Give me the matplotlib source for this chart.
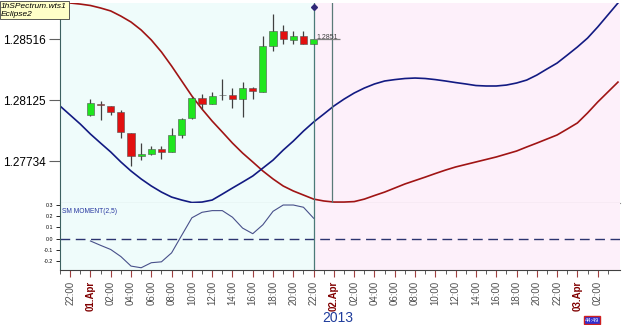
import matplotlib.pyplot as plt
from matplotlib.ticker import FixedLocator

plt.rcParams['font.family'] = ['Liberation Sans', 'DejaVu Sans']

# hours counted from 01.Apr 00:00
candle_hours = list(range(0, 23))
opens  = [1.28029, 1.28099, 1.28087, 1.28048, 1.27915, 1.27766, 1.27779, 1.27811, 1.27790, 1.27903, 1.28008, 1.28136,
          1.28097, 1.28155, 1.28155, 1.28130, 1.28200, 1.28178, 1.28473, 1.28567, 1.28510, 1.28535, 1.28484]
highs  = [1.28130, 1.28119, 1.28087, 1.28061, 1.27915, 1.27849, 1.27831, 1.27831, 1.27947, 1.28008, 1.28146, 1.28162,
          1.28178, 1.28260, 1.28200, 1.28238, 1.28206, 1.28537, 1.28676, 1.28606, 1.28567, 1.28567, 1.28516]
lows   = [1.28022, 1.27997, 1.28029, 1.27881, 1.27704, 1.27740, 1.27772, 1.27745, 1.27790, 1.27880, 1.28003, 1.28065,
          1.28097, 1.28125, 1.28076, 1.28014, 1.28130, 1.28178, 1.28439, 1.28484, 1.28482, 1.28482, 1.28484]
closes = [1.28104, 1.28093, 1.28050, 1.27920, 1.27768, 1.27779, 1.27809, 1.27790, 1.27903, 1.28003, 1.28140, 1.28097,
          1.28153, 1.28157, 1.28130, 1.28200, 1.28183, 1.28471, 1.28567, 1.28514, 1.28535, 1.28484, 1.28514]

curve_hours = list(range(-3, 53))
red_curve = [1.28749, 1.28747, 1.28740, 1.28731, 1.28715, 1.28696, 1.28663, 1.28625, 1.28574, 1.28510, 1.28433,
             1.28343, 1.28247, 1.28151, 1.28067, 1.27990, 1.27920, 1.27849, 1.27785, 1.27728, 1.27670, 1.27619,
             1.27574, 1.27542, 1.27516, 1.27490, 1.27478, 1.27471, 1.27471, 1.27474, 1.27490, 1.27513, 1.27535,
             1.27561, 1.27587, 1.27609, 1.27631, 1.27654, 1.27676, 1.27696, 1.27712, 1.27728, 1.27744, 1.27760,
             1.27779, 1.27798, 1.27824, 1.27849, 1.27875, 1.27901, 1.27939, 1.27978, 1.28042, 1.28112, 1.28176,
             1.28240]
blue_curve = [1.28087, 1.28029, 1.27971, 1.27907, 1.27849, 1.27792, 1.27728, 1.27670, 1.27619, 1.27574, 1.27535,
              1.27503, 1.27484, 1.27468, 1.27471, 1.27484, 1.27522, 1.27561, 1.27599, 1.27638, 1.27689, 1.27740,
              1.27804, 1.27862, 1.27926, 1.27984, 1.28035, 1.28087, 1.28131, 1.28170, 1.28202, 1.28228, 1.28247,
              1.28256, 1.28263, 1.28266, 1.28263, 1.28256, 1.28247, 1.28237, 1.28228, 1.28218, 1.28215, 1.28215,
              1.28221, 1.28234, 1.28253, 1.28285, 1.28324, 1.28362, 1.28413, 1.28465, 1.28522, 1.28593, 1.28670,
              1.28747]

mom_hours = list(range(0, 23))
momentum = [-0.021, -0.06, -0.097, -0.16, -0.245, -0.26, -0.215, -0.207, -0.127, 0.03, 0.186, 0.235,
            0.25, 0.25, 0.191, 0.094, 0.044, 0.124, 0.244, 0.30, 0.30, 0.28, 0.182]

price_ticks = [1.27734, 1.28125, 1.28516]
mom_ticks = [-0.2, -0.1, 0.0, 0.1, 0.2, 0.3]
last_price = 1.28514
now_hour = 22

x0, x1 = -3, 52.2
cyan_bg = '#effcfb'
pink_bg = '#fdf0fa'

fig = plt.figure(figsize=(6.25, 3.25), dpi=100)
ax = fig.add_axes([60/625, 1-203/325, 560/625, 200/325])
ax2 = fig.add_axes([60/625, 1-270/325, 560/625, 67/325], sharex=ax)

for a in (ax, ax2):
    a.set_facecolor('white')
    a.axvspan(x0, now_hour, color=cyan_bg, zorder=0)
    a.axvspan(now_hour, x1, color=pink_bg, zorder=0)
    a.axvline(now_hour, color='#4a7a78', lw=0.9, zorder=3)
    for s in ['top', 'right']:
        a.spines[s].set_visible(False)
    a.spines['left'].set_color('#3c6060')

ax.set_xlim(x0, x1)
ax.set_ylim(1.27465, 1.28747)

# curves
ax.plot(curve_hours, red_curve, color='#a01414', lw=1.2, zorder=2)
ax.plot(curve_hours, blue_curve, color='#121a82', lw=1.2, zorder=2)

# candles
for h, o, hi, lo, c in zip(candle_hours, opens, highs, lows, closes):
    ax.vlines(h, lo, hi, color='#404040', lw=0.9, zorder=4)
    col = '#1ee61e' if c >= o else '#e21010'
    height = max(abs(c - o), 0.00003)
    ax.bar(h, height, bottom=min(o, c), width=0.7, color=col,
           edgecolor='#505050', linewidth=0.4, zorder=5)

# extra markers
ax.axvline(23.8, color='#5a7a78', lw=0.9, zorder=3)
ax.plot([now_hour], [1.28721], marker='D', ms=3, color='#302878', zorder=6, clip_on=False)
ax.hlines(last_price, now_hour, 24.6, color='#808080', lw=0.9, zorder=6)
ax.text(now_hour + 0.3, last_price + 0.00004, '1.2851', fontsize=5, color='#404040', zorder=7)

ax.set_yticks(price_ticks)
ax.set_yticklabels(['%.5f' % v for v in price_ticks], fontsize=8.5)
ax.tick_params(axis='y', length=8, color='#606060', pad=2)
ax.tick_params(axis='x', bottom=False, labelbottom=False)
ax.spines['bottom'].set_color('#909090')

ax.text(-0.105, 1.0, '1hSPectrum.wts1\nEclipse2', transform=ax.transAxes, fontsize=6,
        style='italic', va='top', ha='left', linespacing=1.1,
        bbox=dict(facecolor='#ffffc8', edgecolor='#404040', lw=0.6, pad=1.2))

# momentum panel
ax2.set_ylim(-0.28, 0.318)
ax2.plot(mom_hours, momentum, color='#48508a', lw=0.8, zorder=2)
ax2.axhline(0, color='#2c3470', lw=1.0, dashes=(7, 4), zorder=2)
ax2.text(0.003, 0.93, 'SM MOMENT(2,5)', transform=ax2.transAxes, fontsize=4.8,
         color='#2838a0', va='top')
ax2.set_yticks(mom_ticks)
ax2.set_yticklabels(['%.1f' % v for v in mom_ticks], fontsize=3.8)
ax2.tick_params(axis='y', length=3, pad=2, width=0.6)
ax2.spines['bottom'].set_color('#404040')

# x ticks every 2 hours, minor every hour
major = list(range(-2, 51, 2))
labels = []
for h in major:
    hh = h % 24
    if hh == 0:
        labels.append('%02d.Apr' % (h // 24 + 1))
    else:
        labels.append('%02d:00' % hh)
ax2.xaxis.set_major_locator(FixedLocator(major))
ax2.set_xticklabels(labels, rotation=90, fontsize=7, color='#505050')
ax2.xaxis.set_minor_locator(FixedLocator(list(range(-3, 53, 2))))
ax2.tick_params(axis='x', which='major', length=5, color='#a04040', pad=3)
ax2.tick_params(axis='x', which='minor', length=3, color='#404040')
for lab, h in zip(ax2.get_xticklabels(), major):
    if h % 24 == 0:
        lab.set_color('#800000')
        lab.set_fontweight('bold')

fig.text(338/625, 1-318/325, '2013', fontsize=10, color='#1f3c9c', ha='center', va='center')
fig.text(592/625, 1-320/325, '44:49', fontsize=4, color='white', ha='center', va='center',
         bbox=dict(facecolor='#3030d0', edgecolor='#d02020', lw=1, pad=0.8))

plt.savefig('out.png', dpi=100)
plt.close()
